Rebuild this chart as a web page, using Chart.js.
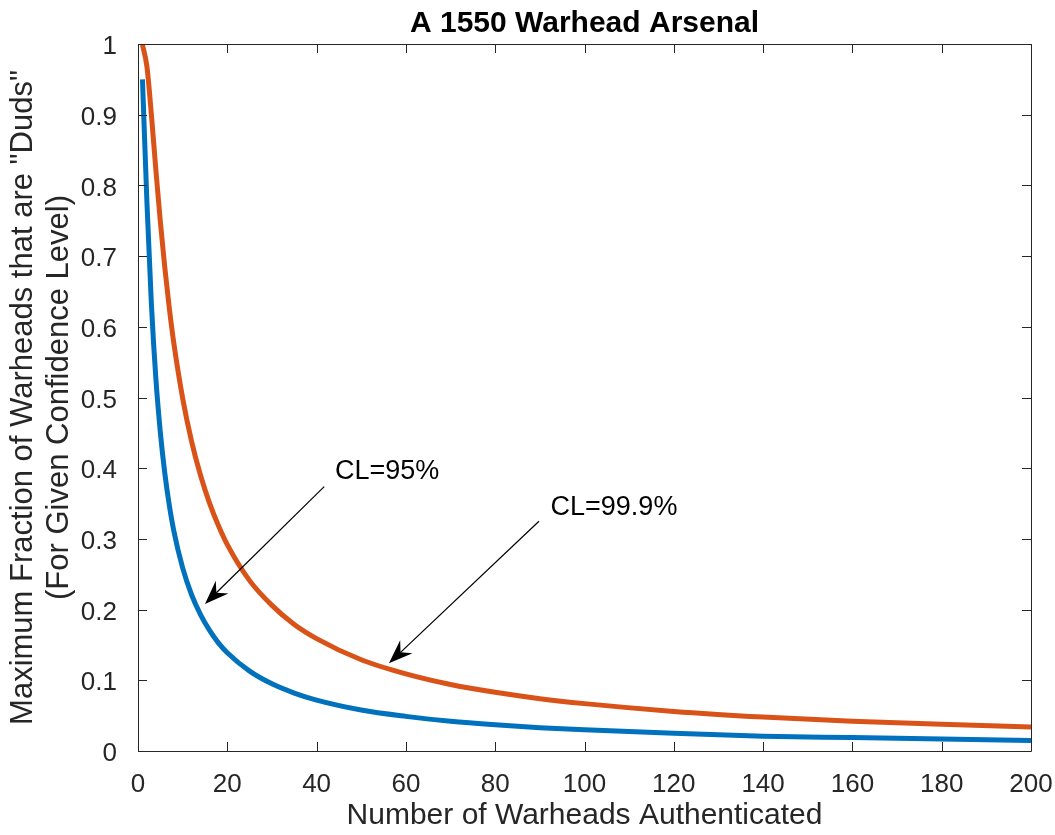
<!DOCTYPE html>
<html>
<head>
<meta charset="utf-8">
<script src="https://cdn.jsdelivr.net/npm/chart.js@4.4.1/dist/chart.umd.min.js"></script>
<style>
  html, body { margin: 0; padding: 0; background: #fff; }
  #wrap { width: 1055px; height: 835px; }
</style>
</head>
<body>
<div id="wrap"><canvas id="dudsChart" width="1055" height="835"></canvas></div>
<script>
// warheads authenticated (x) and the max dud fraction
const warheads = [1, 2, 3, 4, 5, 6, 7, 8, 10, 12, 14, 16, 18, 20, 25, 30, 35, 40, 50, 60, 70, 80, 90, 100, 120, 140, 160, 180, 200];
const cl95 = [0.95, 0.776, 0.632, 0.527, 0.451, 0.393, 0.348, 0.312, 0.259, 0.221, 0.193, 0.171, 0.153, 0.139, 0.113, 0.095, 0.082, 0.072, 0.058, 0.049, 0.042, 0.037, 0.033, 0.030, 0.025, 0.021, 0.019, 0.017, 0.015];
const cl999 = [0.999, 0.968, 0.900, 0.822, 0.749, 0.684, 0.627, 0.578, 0.499, 0.438, 0.390, 0.351, 0.319, 0.292, 0.241, 0.206, 0.179, 0.159, 0.129, 0.109, 0.094, 0.083, 0.074, 0.067, 0.056, 0.048, 0.042, 0.038, 0.034];
const xTicks = [0, 20, 40, 60, 80, 100, 120, 140, 160, 180, 200];
const yTicks = [0, 0.1, 0.2, 0.3, 0.4, 0.5, 0.6, 0.7, 0.8, 0.9, 1];

// callouts: label position, arrow tail and arrow head, all in data units
const notes = [
  { text: 'CL=95%', tx: 55.8, ty: 0.395, x0: 41.7, y0: 0.374, x1: 15.0, y1: 0.208 },
  { text: 'CL=99.9%', tx: 106.6, ty: 0.345, x0: 89.8, y0: 0.325, x1: 56.2, y1: 0.124 }
];

const FONT = '"Liberation Sans", Arial, Helvetica, sans-serif';
const AXIS = '#262626';

const toPts = (ys) => warheads.map((n, i) => ({ x: n, y: ys[i] }));

// matlab style box + inward ticks + arrows
const matlabAxes = {
  id: 'matlabAxes',
  afterDraw(chart) {
    const c = chart.ctx;
    const a = chart.chartArea;
    const xs = chart.scales.x, ys = chart.scales.y;
    const tl = 9;
    c.save();
    c.strokeStyle = AXIS;
    c.lineWidth = 1;
    c.beginPath();
    c.rect(Math.round(a.left) + 0.5, Math.round(a.top) + 0.5, Math.round(a.right - a.left), Math.round(a.bottom - a.top));
    xTicks.forEach(v => {
      const px = Math.round(xs.getPixelForValue(v)) + 0.5;
      c.moveTo(px, a.bottom); c.lineTo(px, a.bottom - tl);
      c.moveTo(px, a.top); c.lineTo(px, a.top + tl);
    });
    yTicks.forEach(v => {
      const py = Math.round(ys.getPixelForValue(v)) + 0.5;
      c.moveTo(a.left, py); c.lineTo(a.left + tl, py);
      c.moveTo(a.right, py); c.lineTo(a.right - tl, py);
    });
    c.stroke();

    notes.forEach(n => {
      const tx = xs.getPixelForValue(n.tx), ty = ys.getPixelForValue(n.ty);
      c.fillStyle = '#000';
      c.font = '27px ' + FONT;
      c.textAlign = 'center';
      c.textBaseline = 'middle';
      c.fillText(n.text, tx, ty);

      const x0 = xs.getPixelForValue(n.x0), y0 = ys.getPixelForValue(n.y0);
      const x1 = xs.getPixelForValue(n.x1), y1 = ys.getPixelForValue(n.y1);
      const ang = Math.atan2(y1 - y0, x1 - x0);
      const len = 24, half = 9, notch = 16;
      c.strokeStyle = '#000';
      c.lineWidth = 1.2;
      c.beginPath();
      c.moveTo(x0, y0);
      c.lineTo(x1 - notch * Math.cos(ang), y1 - notch * Math.sin(ang));
      c.stroke();
      // notched arrow head
      const bx = x1 - len * Math.cos(ang), by = y1 - len * Math.sin(ang);
      const nx = -Math.sin(ang), ny = Math.cos(ang);
      c.beginPath();
      c.moveTo(x1, y1);
      c.lineTo(bx + nx * half, by + ny * half);
      c.lineTo(x1 - notch * Math.cos(ang), y1 - notch * Math.sin(ang));
      c.lineTo(bx - nx * half, by - ny * half);
      c.closePath();
      c.fill();
    });
    c.restore();
  }
};

new Chart(document.getElementById('dudsChart'), {
  type: 'line',
  data: {
    datasets: [
      {
        label: 'CL=95%',
        data: toPts(cl95),
        borderColor: '#0072BD',
        borderWidth: 5,
        pointRadius: 0,
        cubicInterpolationMode: 'monotone',
        fill: false
      },
      {
        label: 'CL=99.9%',
        data: toPts(cl999),
        borderColor: '#D95319',
        borderWidth: 5,
        pointRadius: 0,
        cubicInterpolationMode: 'monotone',
        fill: false
      }
    ]
  },
  options: {
    responsive: false,
    animation: false,
    events: [],
    layout: { padding: { left: 0, right: 24, top: 0, bottom: 0 } },
    plugins: {
      legend: { display: false },
      tooltip: { enabled: false },
      title: {
        display: true,
        fullSize: false,
        text: 'A 1550 Warhead Arsenal',
        color: '#000',
        font: { family: FONT, size: 30, weight: 'bold', lineHeight: 1.2 },
        padding: { top: 6, bottom: 2 }
      }
    },
    scales: {
      x: {
        type: 'linear',
        min: 0, max: 200,
        afterBuildTicks: s => { s.ticks = xTicks.map(v => ({ value: v })); },
        afterFit: s => { s.height = 84; s.paddingLeft = 0; s.paddingRight = 0; },
        grid: { display: false },
        border: { display: false },
        ticks: { color: AXIS, font: { family: FONT, size: 26 }, padding: 10, maxRotation: 0 },
        title: {
          display: true,
          text: 'Number of Warheads Authenticated',
          color: AXIS,
          font: { family: FONT, size: 30 },
          padding: { top: 0, bottom: 1 }
        }
      },
      y: {
        min: 0, max: 1,
        afterBuildTicks: s => { s.ticks = yTicks.map(v => ({ value: v })); },
        afterFit: s => { s.width = 138; },
        grid: { display: false },
        border: { display: false },
        ticks: { color: AXIS, font: { family: FONT, size: 26 }, padding: 13, labelOffset: 3, callback: v => String(v) },
        title: {
          display: true,
          text: ['Maximum Fraction of Warheads that are "Duds"', '(For Given Confidence Level)'],
          color: AXIS,
          font: { family: FONT, size: 31, lineHeight: 1.15 },
          padding: { top: 6, bottom: 0 }
        }
      }
    }
  },
  plugins: [matlabAxes]
});
</script>
</body>
</html>
